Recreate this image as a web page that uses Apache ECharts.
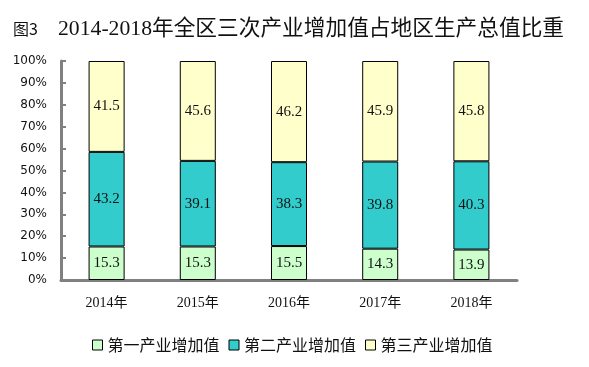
<!DOCTYPE html>
<html><head><meta charset="utf-8">
<script src="https://cdn.jsdelivr.net/npm/echarts@6/dist/echarts.min.js"></script>
<style>html,body{margin:0;padding:0;background:#fff}#c{width:589px;height:367px}</style>
</head><body><div id="c"></div>
<script>
const categories = ['2014年','2015年','2016年','2017年','2018年'];
const primary = [15.3, 15.3, 15.5, 14.3, 13.9];
const secondary = [43.2, 39.1, 38.3, 39.8, 40.3];
const tertiary = [41.5, 45.6, 46.2, 45.9, 45.8];
const seriesNames = ['第一产业增加值','第二产业增加值','第三产业增加值'];
const yTicks = [0,10,20,30,40,50,60,70,80,90,100];

const chart = echarts.init(document.getElementById('c'));
const serif = '"Liberation Serif","Times New Roman","Noto Sans CJK SC",serif';
const colors = ['#CCFFCC','#33CCCC','#FFFFCC'];
function mk(name, data, color){
  return {
    name, type:'bar', stack:'t', data, barWidth:'39.5%',
    itemStyle:{color, borderColor:'#000', borderWidth:1},
    label:{show:true, position:'inside', color:'#111', fontFamily:serif, fontSize:15,
      formatter:p=>p.value.toFixed(1)},
    emphasis:{disabled:true}
  };
}
chart.setOption({
  animation:false,
  title:{
    left:8, top:13,
    text:'{a|图3}{b|2014-2018年全区三次产业增加值占地区生产总值比重}',
    textStyle:{fontWeight:'normal', rich:{
      a:{fontFamily:'"Noto Sans CJK SC",serif', fontSize:16, fontWeight:'normal', color:'#111', width:45},
      b:{fontFamily:'"Liberation Serif","Noto Sans CJK SC",serif', fontSize:21.7, fontWeight:'normal', color:'#111'}
    }}
  },
  legend:{
    left:87, top:332, itemWidth:10, itemHeight:10, itemGap:9,
    icon:'rect',
    textStyle:{fontFamily:'"Noto Sans CJK SC",sans-serif', fontSize:16, color:'#111', padding:[0,0,0,0]},
    itemStyle:{borderColor:'#000', borderWidth:1},
    data:seriesNames
  },
  grid:{left:61, top:61, right:72, bottom:87},
  xAxis:{
    type:'category', data:categories,
    axisLine:{lineStyle:{color:'#808080', width:3}},
    axisTick:{inside:true, length:5, lineStyle:{color:'#808080', width:2}},
    axisLabel:{fontFamily:serif, fontSize:14, color:'#111', margin:16}
  },
  yAxis:{
    type:'value', min:0, max:100, interval:10,
    axisLine:{show:true, lineStyle:{color:'#808080', width:3}},
    axisTick:{show:true, inside:true, length:5, lineStyle:{color:'#808080', width:2}},
    splitLine:{show:false},
    axisLabel:{fontFamily:'"DejaVu Sans",Verdana,sans-serif', fontSize:12, color:'#111', margin:14,
      formatter:v=> yTicks.includes(v) ? v+'%' : ''}
  },
  series:[mk(seriesNames[0], primary, colors[0]), mk(seriesNames[1], secondary, colors[1]), mk(seriesNames[2], tertiary, colors[2])]
});
</script></body></html>
